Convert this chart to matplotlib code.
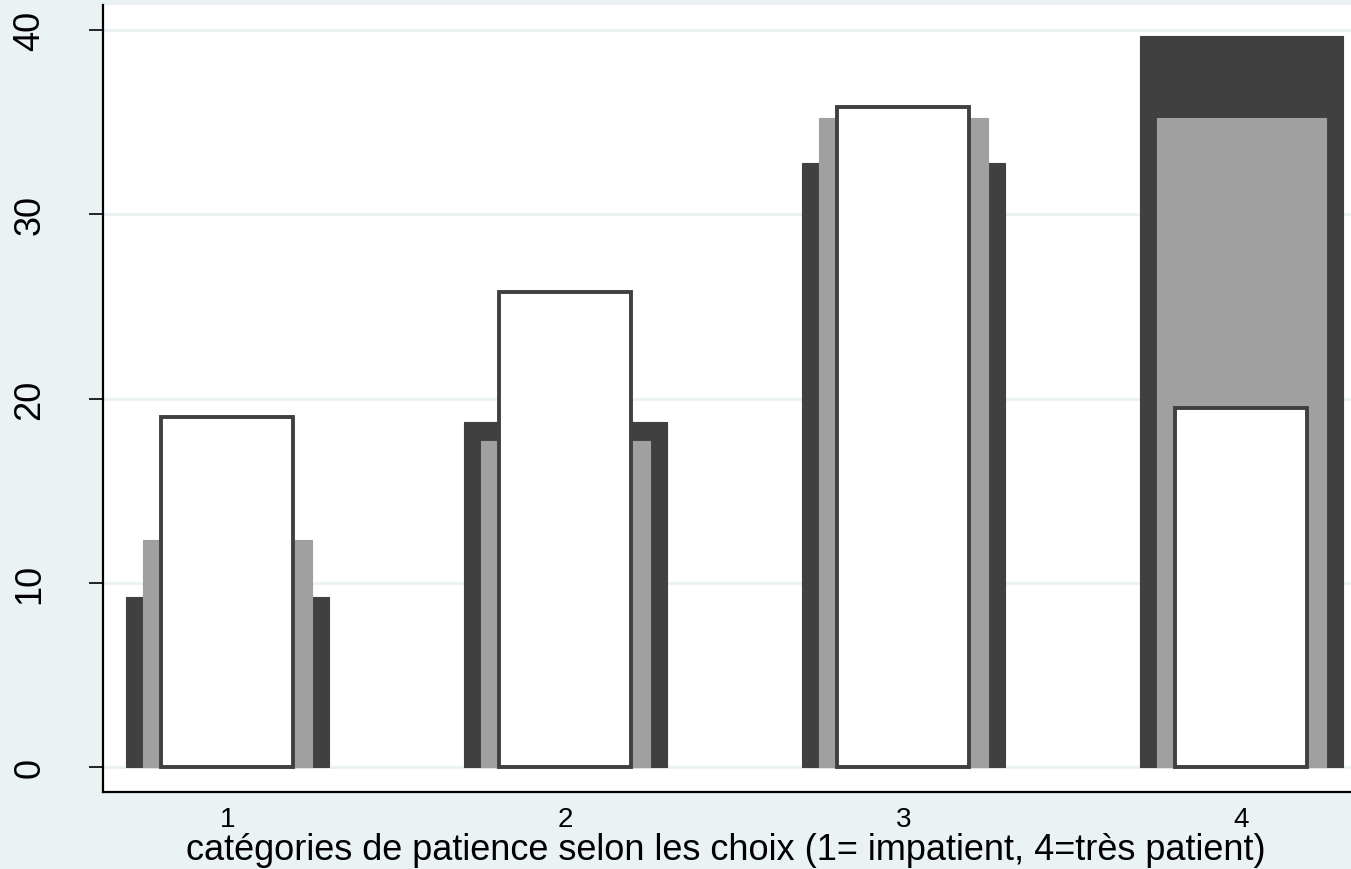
import numpy as np
import matplotlib
matplotlib.use('Agg')
import matplotlib.pyplot as plt

# Data: percent per patience category, three overlaid series
categories = [1, 2, 3, 4]
dark_vals = [9.2, 18.7, 32.8, 39.7]
gray_vals = [12.3, 17.7, 35.2, 35.2]
white_vals = [19.0, 25.8, 35.8, 19.5]
yticks = [0, 10, 20, 30, 40]

plt.rcParams['font.family'] = ['Liberation Sans', 'DejaVu Sans']

bg = '#EAF2F3'
dark = '#404040'
gray = '#A0A0A0'

fig = plt.figure(figsize=(13.51, 8.70), dpi=100)
fig.patch.set_facecolor(bg)

# axes in pixel coords: left 103, top 6, bottom 793, right extends past the edge
W, H = 1351, 870
left, right, top, bottom = 103, 1380, 6, 793
ax = fig.add_axes([left / W, 1 - bottom / H, (right - left) / W, (bottom - top) / H])
ax.set_facecolor('white')

x = np.array(categories)
ax.bar(x, dark_vals, width=0.6, color=dark, edgecolor=dark, linewidth=0.8, zorder=2)
ax.bar(x, gray_vals, width=0.5, color=gray, edgecolor=gray, linewidth=0.8, zorder=3)
ax.bar(x, white_vals, width=0.39, color='white', edgecolor=dark, linewidth=2.8, zorder=4)

ax.set_xlim(0.632, 0.632 + (right - left) / 338)
ax.set_ylim(-1.357, 41.357)

ax.set_yticks(yticks)
ax.set_yticklabels([str(v) for v in yticks], rotation=90, va='center', fontsize=26)
ax.set_xticks(categories)
ax.set_xticklabels([str(c) for c in categories], fontsize=20)
ax.tick_params(axis='y', length=10, width=1.2, color='black', pad=30)
ax.tick_params(axis='x', length=0, pad=10)

for v in yticks:
    ax.axhline(v, color=bg, linewidth=2.2, zorder=1)

for s in ['top', 'right']:
    ax.spines[s].set_visible(False)
for s in ['left', 'bottom']:
    ax.spines[s].set_linewidth(1.6)
    ax.spines[s].set_color('black')

ax.set_xlabel('catégories de patience selon les choix (1= impatient, 4=très patient)',
              fontsize=26, va='baseline')
ax.xaxis.set_label_coords(726 / W, 1 - 860 / H, transform=fig.transFigure)

fig.savefig('out.png', dpi=100, facecolor=bg)
